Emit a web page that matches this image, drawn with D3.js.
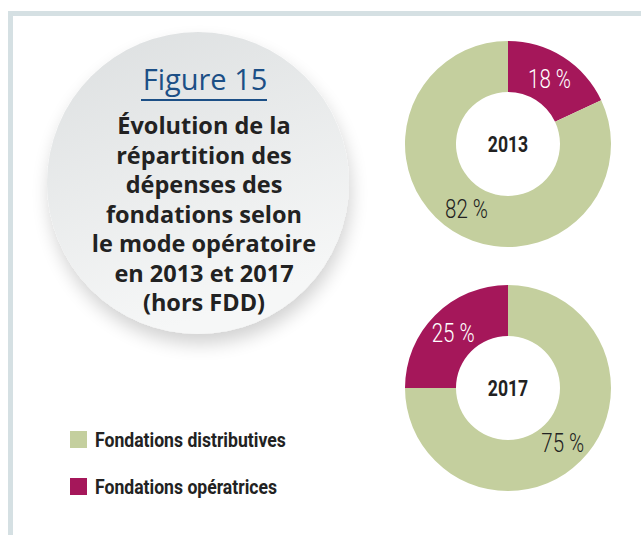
<!DOCTYPE html>
<html><head><meta charset="utf-8">
<script src="https://cdn.jsdelivr.net/npm/d3@7"></script>
<style>
html,body{margin:0;padding:0;background:#fff;}
svg{display:block;}
</style></head>
<body>
<script>
// ---- data ----
const categories = ["Fondations opératrices", "Fondations distributives"];
const years = ["2013", "2017"];
const values2013 = [18, 82];
const values2017 = [25, 75];
const legendOrder = ["Fondations distributives", "Fondations opératrices"];
const titleLines = ["Évolution de la", "répartition des", "dépenses des", "fondations selon", "le mode opératoire", "en 2013 et 2017", "(hors FDD)"];
const figureLabel = "Figure 15";

const W = 641, H = 535;
const color = d3.scaleOrdinal().domain(categories).range(["#a5175a", "#c4cf9e"]);
const labelColor = d3.scaleOrdinal().domain(categories).range(["#ffffff", "#222222"]);
const narrow = "Roboto, 'Liberation Sans', sans-serif";

const svg = d3.select("body").append("svg").attr("width", W).attr("height", H);
const defs = svg.append("defs");
const grad = defs.append("linearGradient").attr("id", "cg").attr("x1", 0).attr("y1", 0).attr("x2", 0.35).attr("y2", 1);
grad.append("stop").attr("offset", "0%").attr("stop-color", "#dcdfe0");
grad.append("stop").attr("offset", "100%").attr("stop-color", "#f6f7f7");
const flt = defs.append("filter").attr("id", "sh").attr("x", "-20%").attr("y", "-20%").attr("width", "140%").attr("height", "150%");
flt.append("feGaussianBlur").attr("in", "SourceAlpha").attr("stdDeviation", 9).attr("result", "b");
flt.append("feOffset").attr("in", "b").attr("dx", 2).attr("dy", 10).attr("result", "o");
flt.append("feComponentTransfer").attr("in", "o").attr("result", "o2")
  .append("feFuncA").attr("type", "linear").attr("slope", 0.18);
const fm = flt.append("feMerge");
fm.append("feMergeNode").attr("in", "o2");
fm.append("feMergeNode").attr("in", "SourceGraphic");

// frame
svg.append("path").attr("d", `M10.5,${H} L10.5,13.5 L${W},13.5`)
  .attr("fill", "none").attr("stroke", "#d5e0e3").attr("stroke-width", 5);

// title bubble
const cx = 198, cy = 183, cr = 151;
svg.append("circle").attr("cx", cx).attr("cy", cy).attr("r", cr)
  .attr("fill", "url(#cg)").attr("filter", "url(#sh)");

svg.append("text").attr("x", 205).attr("y", 90).attr("text-anchor", "middle")
  .attr("font-family", "'Open Sans', 'Noto Sans', sans-serif").attr("font-weight", 400)
  .attr("font-size", 29).attr("fill", "#1c4f86").text(figureLabel);
svg.append("line").attr("x1", 141).attr("x2", 267).attr("y1", 100).attr("y2", 100)
  .attr("stroke", "#1c4f86").attr("stroke-width", 2);

svg.append("g").selectAll("text").data(titleLines).join("text")
  .attr("x", 204).attr("y", (d, i) => 134 + i * 29.5)
  .attr("text-anchor", "middle")
  .attr("font-family", "'Open Sans', 'Noto Sans', sans-serif").attr("font-weight", 700)
  .attr("font-size", 23.5).attr("fill", "#222").text(d => d);

// donuts
const arc = d3.arc().innerRadius(52).outerRadius(103);
const donuts = [
  { year: years[0], values: values2013, cx: 508, cy: 144, start: 0 },
  { year: years[1], values: values2017, cx: 508, cy: 388, start: -Math.PI / 2 }
];
donuts.forEach(dn => {
  const pie = d3.pie().sort(null).value(d => d.v)
    .startAngle(dn.start).endAngle(dn.start + 2 * Math.PI);
  const arcs = pie(categories.map((c, i) => ({ c, v: dn.values[i] })));
  const g = svg.append("g").attr("transform", `translate(${dn.cx},${dn.cy})`);
  g.selectAll("path").data(arcs).join("path")
    .attr("d", arc).attr("fill", d => color(d.data.c));
  g.selectAll("text.lab").data(arcs).join("text").attr("class", "lab")
    .attr("transform", d => `translate(${arc.centroid(d)}) scale(0.82,1)`)
    .attr("text-anchor", "middle").attr("dy", "0.36em")
    .attr("font-family", narrow).attr("font-weight", 300).attr("font-size", 25)
    .attr("fill", d => labelColor(d.data.c))
    .text(d => d.data.v + " %");
  g.append("text").attr("text-anchor", "middle").attr("dy", "0.36em")
    .attr("transform", `scale(0.8,1)`)
    .attr("font-family", narrow).attr("font-weight", 700).attr("font-size", 22)
    .attr("fill", "#222").text(dn.year);
});

// legend
const lg = svg.append("g").selectAll("g").data(legendOrder).join("g")
  .attr("transform", (d, i) => `translate(70,${431 + i * 47})`);
lg.append("rect").attr("width", 17).attr("height", 17).attr("fill", d => color(d));
lg.append("text").attr("transform", `translate(25,15.5) scale(0.88,1)`)
  .attr("font-family", narrow).attr("font-weight", 700).attr("font-size", 20)
  .attr("fill", "#222").text(d => d);
</script>
</body></html>
